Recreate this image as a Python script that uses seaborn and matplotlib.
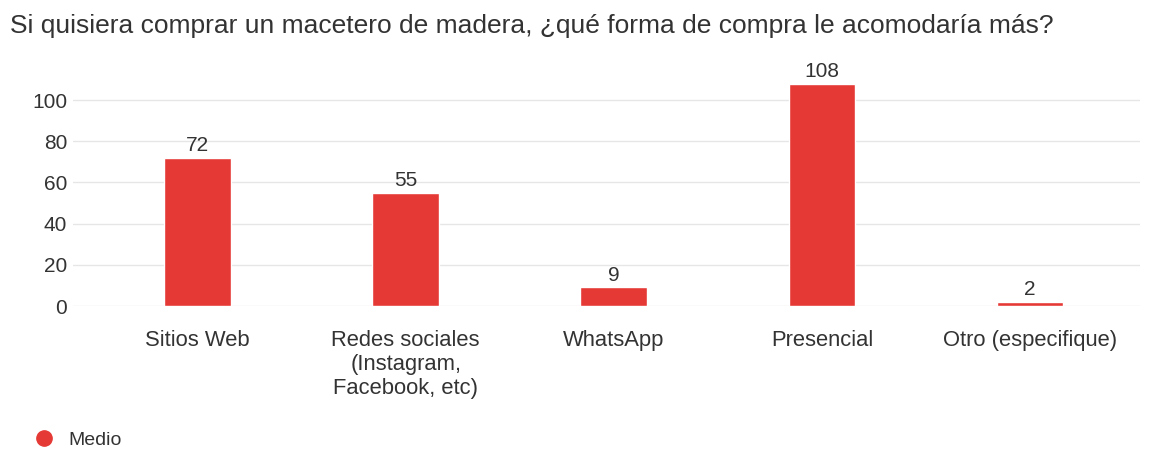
import matplotlib
matplotlib.use("Agg")
import matplotlib.pyplot as plt
from matplotlib.lines import Line2D
import seaborn as sns
import pandas as pd

# Survey answers and their counts
categorias = [
    "Sitios Web",
    "Redes sociales\n(Instagram,\nFacebook, etc)",
    "WhatsApp",
    "Presencial",
    "Otro (especifique)",
]
respuestas = [72, 55, 9, 108, 2]
y_ticks = [0, 20, 40, 60, 80, 100]
titulo = "Si quisiera comprar un macetero de madera, ¿qué forma de compra le acomodaría más?"
serie = "Medio"

ROJO = "#e53935"
TEXTO = "#333333"

sns.set_theme(style="white")
plt.rcParams["font.family"] = ["Liberation Sans", "DejaVu Sans"]

df = pd.DataFrame({"categoria": categorias, "valor": respuestas})

fig = plt.figure(figsize=(11.53, 4.5), dpi=100)
ax = fig.add_axes([0.063, 0.32, 0.926, 0.549])

sns.barplot(data=df, x="categoria", y="valor", color=ROJO, width=0.32,
            saturation=1, ax=ax, zorder=3)

for cont in ax.containers:
    ax.bar_label(cont, labels=[str(v) for v in respuestas], padding=2,
                 fontsize=15, color=TEXTO)

ax.set_xlim(-0.6, 4.53)
ax.set_ylim(0, 120)
ax.set_yticks(y_ticks)
ax.yaxis.grid(True, color="#e6e6e6", linewidth=1, zorder=0)
ax.set_axisbelow(True)
for s in ax.spines.values():
    s.set_visible(False)
ax.tick_params(axis="y", length=0, pad=4, labelsize=15, labelcolor=TEXTO)
ax.tick_params(axis="x", length=0, pad=17, labelsize=15.8, labelcolor=TEXTO)
for lab in ax.get_xticklabels():
    lab.set_linespacing(1.2)
ax.set_xlabel("")
ax.set_ylabel("")

fig.text(10 / 1153, 1 - 26 / 450, titulo, fontsize=19, color=TEXTO,
         ha="left", va="center")

handle = Line2D([], [], marker="o", linestyle="none", markersize=11,
                markerfacecolor=ROJO, markeredgecolor=ROJO)
fig.legend([handle], [serie], loc="center left",
           bbox_to_anchor=(34 / 1153, 1 - 440 / 450), frameon=False,
           fontsize=14, handletextpad=0.75, handlelength=1.0,
           labelcolor=TEXTO, borderaxespad=0, borderpad=0)

fig.savefig("out.png", dpi=100)
